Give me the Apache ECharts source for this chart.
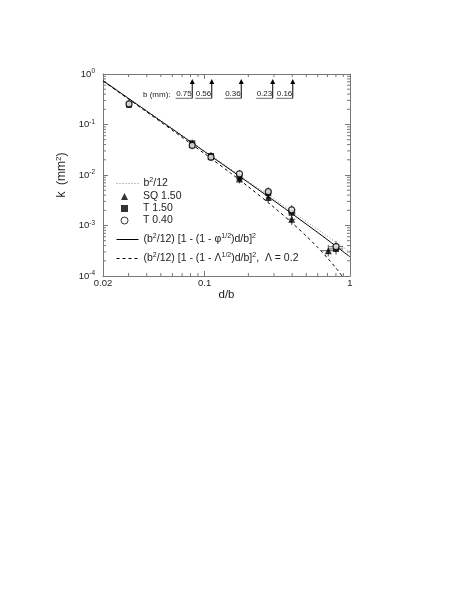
<!DOCTYPE html>
<html>
<head>
<meta charset="utf-8">
<script src="https://cdn.jsdelivr.net/npm/echarts@6/dist/echarts.min.js"></script>
<style>
  html, body { margin: 0; padding: 0; background: #fff; }
  #main { width: 469px; height: 607px; }
</style>
</head>
<body>
<div id="main"></div>
<script>
// axis ranges
var xMin = 0.02, xMax = 1;
var yMin = 1e-4, yMax = 1;

// minor tick positions (log axes)
var xMinor = [0.03, 0.04, 0.05, 0.06, 0.07, 0.08, 0.09, 0.2, 0.3, 0.4, 0.5, 0.6, 0.7, 0.8, 0.9];
var yMinor = [];
[1e-4, 1e-3, 1e-2, 1e-1].forEach(function (d) {
    for (var m = 2; m <= 9; m++) yMinor.push(+(m * d).toPrecision(2));
});

// SQ 1.50 (triangles)
var triX = [0.0822, 0.1106, 0.1737, 0.274, 0.397, 0.709];
var triY = [0.0400, 0.0232, 0.0083, 0.0036, 0.00133, 0.000317];
var triEx = [1, 1, 1.03, 1.04, 1.06, 1.12];
var triEy = [1.18, 1.2, 1.22, 1.25, 1.3, 1.3];

// T 1.50 (squares)
var sqX = [0.0302, 0.0822, 0.1106, 0.1737, 0.274, 0.397, 0.801];
var sqY = [0.245, 0.0425, 0.0238, 0.0090, 0.0044, 0.00179, 0.000343];
var sqEx = [1, 1, 1, 1.03, 1.04, 1.06, 1.12];
var sqEy = [1.15, 1.18, 1.2, 1.2, 1.22, 1.25, 1.3];

// T 0.40 (open circles)
var ciX = [0.0302, 0.0822, 0.1106, 0.1737, 0.274, 0.397, 0.801];
var ciY = [0.255, 0.0385, 0.0225, 0.0105, 0.00467, 0.00203, 0.00038];
var ciEx = [1, 1, 1, 1.03, 1.04, 1.06, 1.12];
var ciEy = [1.2, 1.2, 1.2, 1.2, 1.22, 1.25, 1.3];

// curves
var dotX = [0.02, 1];
var dotY = [0.75, 0.0003];
var solidX = [0.02, 0.1, 0.3, 0.6, 0.8, 1];
var solidY = [0.737, 0.0290, 0.00309, 0.000726, 0.00039, 0.00024];
var dashX = [0.02, 0.05, 0.1, 0.15, 0.2, 0.3, 0.4, 0.5, 0.6, 0.7, 0.8, 0.9];
var dashY = [0.724, 0.112, 0.0264, 0.01106, 0.00585, 0.00229, 0.00112, 0.00062, 0.000367, 0.000227, 0.000144, 0.0000922];

// b (mm) markers
var bLabels = ['0.75', '0.56', '0.36', '0.23', '0.16'];
var bX = [0.0822, 0.112, 0.1786, 0.294, 0.404];
var arrowBaseY = 0.33, arrowTipY = 0.8;

var FONT = '"Liberation Sans", Arial, sans-serif';
var TXT = '#222';
var NOFILL = 'rgba(0,0,0,0)';

function pairs(xs, ys) {
    return xs.map(function (x, i) { return [x, ys[i]]; });
}
function errRows(xs, ys, ex, ey) {
    return xs.map(function (x, i) { return [x, ys[i], ex[i], ey[i]]; });
}

var legendNames = {
    'b2/12': '{n|b}{s|2}{n|/12}',
    'SQ 1.50': '{n|SQ 1.50}',
    'T 1.50': '{n|T 1.50}',
    'T 0.40': '{n|T 0.40}',
    'phi': '{n|(b}{s|2}{n|/12) [1 - (1 - \u03c6}{s|1/2}{n|)d/b]}{s|2}',
    'lambda': '{n|(b}{s|2}{n|/12) [1 - (1 - \u039b}{s|1/2}{n|)d/b]}{s|2}{n|,  \u039b = 0.2}'
};
var legendRich = {
    n: { fontSize: 10.5, fontFamily: FONT, color: TXT, lineHeight: 13 },
    s: { fontSize: 7, fontFamily: FONT, color: TXT, lineHeight: 7, verticalAlign: 'top' }
};

function tickLine(x1, y1, x2, y2) {
    return { type: 'line', shape: { x1: x1, y1: y1, x2: x2, y2: y2 }, style: { stroke: '#777', lineWidth: 1 } };
}

function makeLegend(names, top, opts) {
    return echarts.util.merge({
        data: names, top: top,
        orient: 'vertical', left: 116, padding: 0,
        itemWidth: 22, itemHeight: 7, itemGap: 1,
        selectedMode: false,
        lineStyle: { width: 1 },
        formatter: function (n) { return legendNames[n]; },
        textStyle: { rich: legendRich }
    }, opts || {}, true);
}

var chart = echarts.init(document.getElementById('main'));

var axisCommon = {
    type: 'log', logBase: 10,
    axisLine: { show: true, lineStyle: { color: '#777', width: 1 } },
    axisTick: { show: true, inside: true, length: 5, lineStyle: { color: '#777', width: 1 } },
    splitLine: { show: false }
};

chart.setOption({
    animation: false,
    backgroundColor: '#fff',
    grid: { left: 103, top: 74, right: 119, bottom: 331 },
    xAxis: [
        echarts.util.merge({
            min: xMin, max: xMax, position: 'bottom',
            name: 'd/b', nameLocation: 'middle', nameGap: 10,
            nameTextStyle: { fontSize: 11.5, fontFamily: FONT, color: TXT },
            axisLabel: {
                margin: 2, fontSize: 9.5, fontFamily: FONT, color: TXT,
                formatter: function (v) { return String(+v.toPrecision(3)); }
            }
        }, axisCommon, true),
        echarts.util.merge({
            min: xMin, max: xMax, position: 'top',
            axisLabel: { show: false }
        }, axisCommon, true)
    ],
    yAxis: [
        echarts.util.merge({
            min: yMin, max: yMax, position: 'left',
            name: '{n|k  (mm}{s|2}{n|)}', nameLocation: 'middle', nameGap: 26,
            nameTextStyle: {
                rich: {
                    n: { fontSize: 12, fontFamily: FONT, color: TXT, lineHeight: 14 },
                    s: { fontSize: 8, fontFamily: FONT, color: TXT, lineHeight: 8, verticalAlign: 'top' }
                }
            },
            axisLabel: {
                margin: 8,
                formatter: function (v) {
                    return '{n|10}{s|' + Math.round(Math.log10(v)) + '}';
                },
                rich: {
                    n: { fontSize: 9.5, fontFamily: FONT, color: TXT, lineHeight: 12 },
                    s: { fontSize: 6.5, fontFamily: FONT, color: TXT, lineHeight: 7, verticalAlign: 'top' }
                }
            }
        }, axisCommon, true),
        echarts.util.merge({
            min: yMin, max: yMax, position: 'right',
            axisLabel: { show: false }
        }, axisCommon, true)
    ],
    legend: [
        makeLegend(['b2/12'], 177),
        makeLegend(['SQ 1.50', 'T 1.50', 'T 0.40'], 191, {
            left: 120.5, itemWidth: 7,
            itemStyle: { borderWidth: 1 },
            textStyle: { padding: [0, 0, 0, 10] }
        }),
        makeLegend(['phi'], 233),
        makeLegend(['lambda'], 252)
    ],
    graphic: [
        {
            type: 'text', left: 143, top: 90.5,
            style: { text: 'b (mm):', font: '8px ' + FONT, fill: TXT }
        }
    ],
    series: [
        {
            name: 'b2/12', type: 'line', data: pairs(dotX, dotY),
            symbol: 'none', z: 2,
            itemStyle: { color: NOFILL, borderColor: NOFILL },
            lineStyle: { color: '#888', width: 1, type: [1, 2] }
        },
        {
            name: 'phi', type: 'line', data: pairs(solidX, solidY), smooth: 0.3,
            symbol: 'none', z: 2,
            itemStyle: { color: NOFILL, borderColor: NOFILL },
            lineStyle: { color: '#000', width: 1 }
        },
        {
            name: 'lambda', type: 'line', data: pairs(dashX, dashY), smooth: 0.3,
            symbol: 'none', z: 2,
            itemStyle: { color: NOFILL, borderColor: NOFILL },
            lineStyle: { color: '#000', width: 1, type: [3, 3] }
        },
        {
            name: 'errors', type: 'custom', z: 3, silent: true,
            data: errRows(triX, triY, triEx, triEy)
                .concat(errRows(sqX, sqY, sqEx, sqEy))
                .concat(errRows(ciX, ciY, ciEx, ciEy)),
            renderItem: function (params, api) {
                var x = api.value(0), y = api.value(1), ex = api.value(2), ey = api.value(3);
                var v0 = api.coord([x, y / ey]), v1 = api.coord([x, y * ey]);
                var h0 = api.coord([x / ex, y]), h1 = api.coord([x * ex, y]);
                var st = { stroke: '#333', lineWidth: 0.8 };
                return {
                    type: 'group',
                    children: [
                        { type: 'line', shape: { x1: v0[0], y1: v0[1], x2: v1[0], y2: v1[1] }, style: st },
                        { type: 'line', shape: { x1: h0[0], y1: h0[1], x2: h1[0], y2: h1[1] }, style: st }
                    ]
                };
            }
        },
        {
            name: 'SQ 1.50', type: 'scatter', data: pairs(triX, triY), z: 4,
            symbol: 'triangle', symbolSize: 7,
            itemStyle: { color: '#000' }
        },
        {
            name: 'T 1.50', type: 'scatter', data: pairs(sqX, sqY), z: 5,
            symbol: 'rect', symbolSize: 6,
            itemStyle: { color: '#000' }
        },
        {
            name: 'T 0.40', type: 'scatter', data: pairs(ciX, ciY), z: 6,
            symbol: 'circle', symbolSize: 6,
            itemStyle: { color: '#fff', borderColor: '#000', borderWidth: 1.2 }
        },
        {
            name: 'xminor', type: 'custom', z: 1, silent: true,
            data: xMinor.map(function (v) { return [v, yMin]; }),
            renderItem: function (params, api) {
                var b = api.coord([api.value(0), yMin]);
                var t = api.coord([api.value(0), yMax]);
                return {
                    type: 'group',
                    children: [tickLine(b[0], b[1], b[0], b[1] - 3), tickLine(t[0], t[1], t[0], t[1] + 3)]
                };
            }
        },
        {
            name: 'yminor', type: 'custom', z: 1, silent: true,
            data: yMinor.map(function (v) { return [xMin, v]; }),
            renderItem: function (params, api) {
                var l = api.coord([xMin, api.value(1)]);
                var r = api.coord([xMax, api.value(1)]);
                return {
                    type: 'group',
                    children: [tickLine(l[0], l[1], l[0] + 3, l[1]), tickLine(r[0], r[1], r[0] - 3, r[1])]
                };
            }
        },
        {
            name: 'bmarks', type: 'custom', z: 7, silent: true,
            data: bX.map(function (x, i) { return [x, arrowBaseY, i]; }),
            renderItem: function (params, api) {
                var i = api.value(2);
                var p0 = api.coord([api.value(0), arrowBaseY]);
                var p1 = api.coord([api.value(0), arrowTipY]);
                var st = { stroke: '#000', lineWidth: 1 };
                return {
                    type: 'group',
                    children: [
                        { type: 'line', shape: { x1: p0[0], y1: p0[1], x2: p1[0], y2: p1[1] + 4 }, style: st },
                        { type: 'polygon', shape: { points: [[p1[0], p1[1]], [p1[0] - 2.5, p1[1] + 5], [p1[0] + 2.5, p1[1] + 5]] }, style: { fill: '#000' } },
                        { type: 'line', shape: { x1: p0[0] - 16.5, y1: p0[1], x2: p0[0], y2: p0[1] }, style: { stroke: '#444', lineWidth: 0.8 } },
                        {
                            type: 'text',
                            style: {
                                text: bLabels[i], x: p0[0] - 0.5, y: p0[1] - 0.5,
                                align: 'right', verticalAlign: 'bottom',
                                font: '8px ' + FONT, fill: TXT
                            }
                        }
                    ]
                };
            }
        }
    ]
});
</script>
</body>
</html>
